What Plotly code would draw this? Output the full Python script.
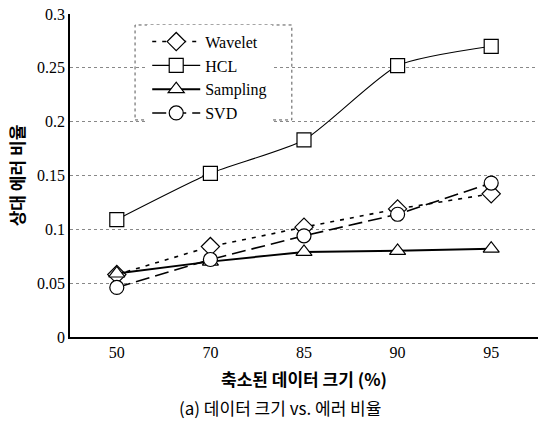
import plotly.graph_objects as go

categories = ["50", "70", "85", "90", "95"]
wavelet = [0.058, 0.084, 0.102, 0.119, 0.133]
hcl = [0.109, 0.152, 0.183, 0.252, 0.270]
sampling = [0.059, 0.070, 0.079, 0.080, 0.082]
svd = [0.046, 0.072, 0.094, 0.114, 0.143]
yticks = [0, 0.05, 0.1, 0.15, 0.2, 0.25, 0.3]
ytick_labels = ["0", "0.05", "0.1", "0.15", "0.2", "0.25", "0.3"]

serif = "Liberation Serif"
kr = "Noto Sans CJK KR"

fig = go.Figure()
mk = dict(color="white", size=14, line=dict(color="black", width=1.2))
fig.add_trace(go.Scatter(x=categories, y=wavelet, name="Wavelet", mode="lines+markers",
                         line=dict(color="black", width=1.6, dash="4px,6px"),
                         marker=dict(symbol="diamond", **mk)))
fig.add_trace(go.Scatter(x=categories, y=hcl, name="HCL", mode="lines+markers",
                         line=dict(color="black", width=1.1, shape="spline", smoothing=0.6),
                         marker=dict(symbol="square", **mk)))
fig.add_trace(go.Scatter(x=categories, y=sampling, name="Sampling", mode="lines+markers",
                         line=dict(color="black", width=2),
                         marker=dict(symbol="triangle-up", **mk)))
fig.add_trace(go.Scatter(x=categories, y=svd, name="SVD", mode="lines+markers",
                         line=dict(color="black", width=1.6, dash="14px,6px"),
                         marker=dict(symbol="circle", **mk)))

fig.update_layout(
    width=539, height=422,
    margin=dict(l=70, r=1, t=14, b=85),
    plot_bgcolor="white", paper_bgcolor="white",
    showlegend=True,
    legend=dict(x=0.165, y=0.967, xanchor="left", yanchor="top",
                bgcolor="white", borderwidth=0, itemwidth=48,
                font=dict(family=serif, size=16, color="black"),
                tracegroupgap=0),
    xaxis=dict(type="category", range=[-0.5, 4.5], showgrid=False,
               showline=True, linecolor="black", linewidth=1.5, ticks="",
               tickfont=dict(family=serif, size=16, color="black"),
               title=dict(text="<b>축소된 데이터 크기 (%)</b>",
                          font=dict(family=kr, size=17, color="black"), standoff=14)),
    yaxis=dict(range=[0, 0.3], tickvals=yticks, ticktext=ytick_labels,
               showgrid=True, gridcolor="#888", griddash="dot", gridwidth=1,
               zeroline=False, showline=True, linecolor="black", linewidth=1.5,
               ticks="", tickfont=dict(family=serif, size=16, color="black"),
               title=dict(text="<b>상대 에러 비율</b>",
                          font=dict(family=kr, size=17, color="black"), standoff=8)),
    shapes=[dict(type="rect", xref="paper", yref="paper",
                 x0=0.139, x1=0.474, y0=0.672, y1=0.966,
                 line=dict(color="#555", width=1, dash="dot"))],
    annotations=[dict(text="(a) 데이터 크기 vs. 에러 비율", xref="paper", yref="paper",
                      x=(280 - 70) / 468, y=-(408 - 337.5) / 323.5, xanchor="center",
                      yanchor="middle", showarrow=False,
                      font=dict(family=kr, size=17, color="black"))],
)

fig.write_html("out.html")
